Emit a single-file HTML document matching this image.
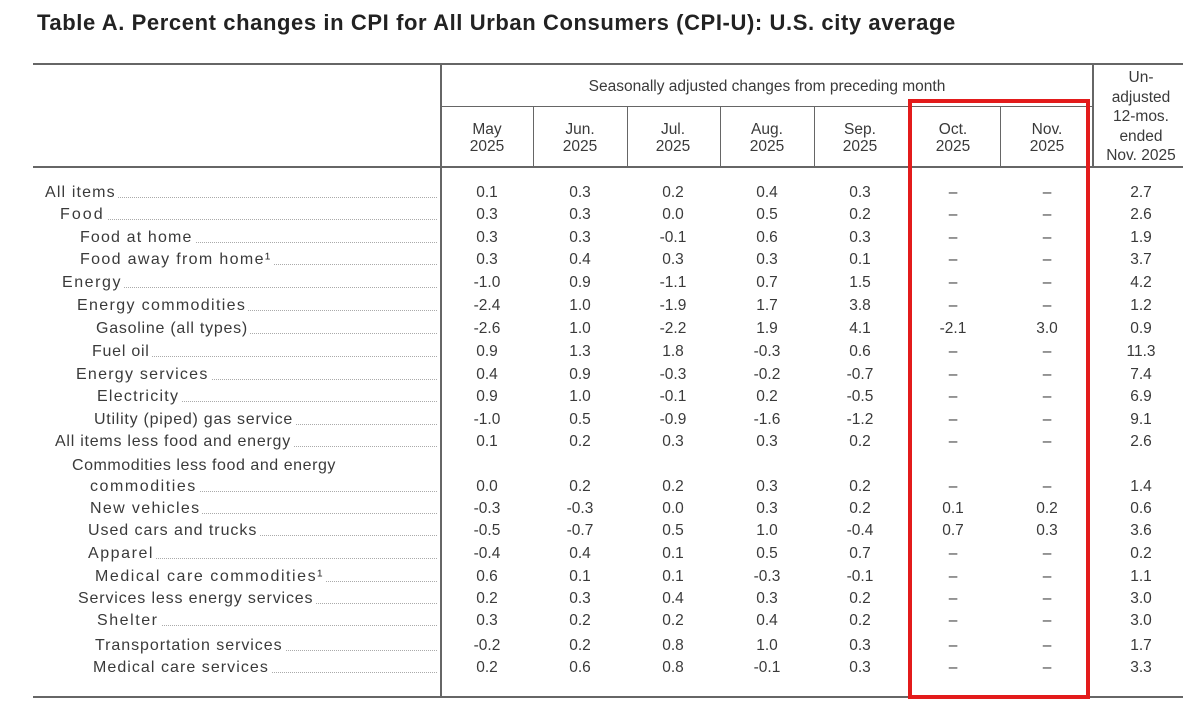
<!DOCTYPE html>
<html><head><meta charset="utf-8"><style>
body{margin:0;width:1200px;height:721px;background:#fff;position:relative;overflow:hidden;font-family:"Liberation Sans",Arial,sans-serif;color:#3a3a3a}
.a{position:absolute}
.h{background:#666}
.t{position:absolute;font-size:15.5px;line-height:17px;white-space:nowrap}
.c{text-align:center;width:90px}
.lab{position:absolute;height:17px;font-size:16px;line-height:17px;white-space:nowrap}
.lab .d{position:absolute;left:0;right:0;bottom:3px;border-bottom:1.5px dotted #aaa}
.lab span{position:relative;background:#fff;padding-right:2px}
</style></head><body>
<div class="t" style="left:37px;top:10px;font-size:22px;line-height:26px;letter-spacing:0.6px;font-weight:bold;color:#222">Table A. Percent changes in CPI for All Urban Consumers (CPI-U): U.S. city average</div>
<div class="a h" style="left:33px;top:63px;width:1150px;height:2px"></div>
<div class="a h" style="left:33px;top:166px;width:1150px;height:2px"></div>
<div class="a h" style="left:33px;top:696px;width:1150px;height:2px"></div>
<div class="a h" style="left:440px;top:63px;width:2px;height:635px"></div>
<div class="a h" style="left:1092px;top:63px;width:2px;height:105px"></div>
<div class="a h" style="left:441px;top:106px;width:652px;height:1px"></div>
<div class="a h" style="left:533px;top:106px;width:1px;height:61px"></div>
<div class="a h" style="left:627px;top:106px;width:1px;height:61px"></div>
<div class="a h" style="left:720px;top:106px;width:1px;height:61px"></div>
<div class="a h" style="left:814px;top:106px;width:1px;height:61px"></div>
<div class="a h" style="left:1000px;top:106px;width:1px;height:61px"></div>
<div class="t" style="left:441px;top:78px;width:652px;text-align:center">Seasonally adjusted changes from preceding month</div>
<div class="t c" style="left:442px;top:121px">May<br>2025</div>
<div class="t c" style="left:535px;top:121px">Jun.<br>2025</div>
<div class="t c" style="left:628px;top:121px">Jul.<br>2025</div>
<div class="t c" style="left:722px;top:121px">Aug.<br>2025</div>
<div class="t c" style="left:815px;top:121px">Sep.<br>2025</div>
<div class="t c" style="left:908px;top:121px">Oct.<br>2025</div>
<div class="t c" style="left:1002px;top:121px">Nov.<br>2025</div>
<div class="t c" style="left:1096px;top:68px;line-height:19.5px">Un-<br>adjusted<br>12-mos.<br>ended<br>Nov. 2025</div>
<div class="a" style="left:908px;top:99px;width:174px;height:592px;border:4px solid #e31b1b"></div>
<div id="rows"></div>
<script>
var R=[
["All items",45,184,"0.1 0.3 0.2 0.4 0.3 – – 2.7",1.6],
["Food",60,206,"0.3 0.3 0.0 0.5 0.2 – – 2.6",2.5],
["Food at home",80,229,"0.3 0.3 -0.1 0.6 0.3 – – 1.9",1.6],
["Food away from home¹",80,251,"0.3 0.4 0.3 0.3 0.1 – – 3.7",1.8],
["Energy",62,274,"-1.0 0.9 -1.1 0.7 1.5 – – 4.2",2],
["Energy commodities",77,297,"-2.4 1.0 -1.9 1.7 3.8 – – 1.2",1.8],
["Gasoline (all types)",96,320,"-2.6 1.0 -2.2 1.9 4.1 -2.1 3.0 0.9",1.2],
["Fuel oil",92,343,"0.9 1.3 1.8 -0.3 0.6 – – 11.3",1.2],
["Energy services",76,366,"0.4 0.9 -0.3 -0.2 -0.7 – – 7.4",1.7],
["Electricity",97,388,"0.9 1.0 -0.1 0.2 -0.5 – – 6.9",1.7],
["Utility (piped) gas service",94,411,"-1.0 0.5 -0.9 -1.6 -1.2 – – 9.1",1.2],
["All items less food and energy",55,433,"0.1 0.2 0.3 0.3 0.2 – – 2.6",1.2],
["commodities",90,478,"0.0 0.2 0.2 0.3 0.2 – – 1.4",2],
["New vehicles",90,500,"-0.3 -0.3 0.0 0.3 0.2 0.1 0.2 0.6",1.8],
["Used cars and trucks",88,522,"-0.5 -0.7 0.5 1.0 -0.4 0.7 0.3 3.6",1.4],
["Apparel",88,545,"-0.4 0.4 0.1 0.5 0.7 – – 0.2",2],
["Medical care commodities¹",95,568,"0.6 0.1 0.1 -0.3 -0.1 – – 1.1",2],
["Services less energy services",78,590,"0.2 0.3 0.4 0.3 0.2 – – 3.0",1.3],
["Shelter",97,612,"0.3 0.2 0.2 0.4 0.2 – – 3.0",2],
["Transportation services",95,637,"-0.2 0.2 0.8 1.0 0.3 – – 1.7",1.4],
["Medical care services",93,659,"0.2 0.6 0.8 -0.1 0.3 – – 3.3",1.5]];
var X=[487,580,673,767,860,953,1047,1141],h='';
h+='<div class="t" style="left:72px;top:457px;font-size:16px;letter-spacing:0.55px">Commodities less food and energy</div>';
R.forEach(function(r){
h+='<div class="lab" style="left:'+r[1]+'px;top:'+r[2]+'px;width:'+(437-r[1])+'px"><div class="d"></div><span style="letter-spacing:'+(r[4]-0.45).toFixed(2)+'px">'+r[0]+'</span></div>';
r[3].split(' ').forEach(function(v,i){h+='<div class="t" style="left:'+(X[i]-40)+'px;width:80px;text-align:center;top:'+r[2]+'px">'+v+'</div>';});
});
document.getElementById('rows').innerHTML=h;
</script>
</body></html>
